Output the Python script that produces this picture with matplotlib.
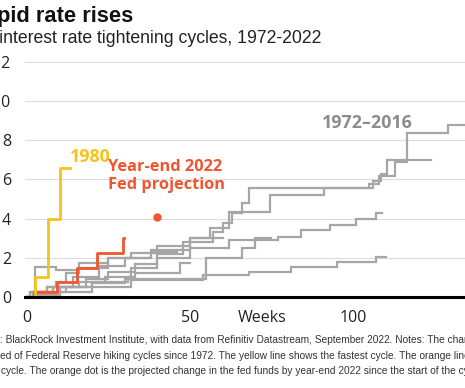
import matplotlib
matplotlib.use("Agg")
import matplotlib.pyplot as plt
from matplotlib import font_manager

# weeks since start of cycle / cumulative rise in fed funds rate (pp)
weeks_1980 = [0, 2.5, 6.4, 10.2, 13.2]
rise_1980 = [0, 1.0, 4.0, 6.6, 6.6]

weeks_2022 = [0, 2.2, 9.2, 15.3, 21.5, 29.6, 29.8]
rise_2022 = [0, 0.25, 0.75, 1.5, 2.25, 3.0, 3.0]

proj_week = 40
proj_rise = 4.1

# 1972-2016 cycles (grey)
cyc_a_weeks = [0, 3, 10, 18, 25, 33, 40, 48, 57, 60, 63, 66, 68, 105, 108, 113, 116.5, 129, 145]
cyc_a_rise = [0, 0.25, 0.5, 0.9, 1.3, 1.7, 2.2, 2.8, 3.3, 3.8, 4.3, 4.8, 5.55, 5.75, 6.2, 6.9, 8.35, 8.77, 8.77]
cyc_b_weeks = [0, 1, 6, 14, 22, 30, 38, 50, 56, 62, 74.5, 91, 106, 108.5, 110.5, 124]
cyc_b_rise = [0, 0.25, 0.5, 1.0, 1.6, 2.0, 2.4, 3.0, 3.5, 4.35, 5.2, 5.55, 5.9, 6.3, 7.0, 7.0]
cyc_c_weeks = [0, 2, 8, 16, 24, 32, 40, 50, 62, 77, 84, 93, 101, 107, 109]
cyc_c_rise = [0, 0.25, 0.5, 0.75, 1.0, 1.5, 2.0, 2.5, 2.9, 3.06, 3.4, 3.67, 4.0, 4.3, 4.3]
cyc_d_weeks = [0, 3, 10, 20, 32, 54, 68, 81, 95, 107, 110]
cyc_d_rise = [0, 0.1, 0.25, 0.5, 0.87, 1.12, 1.28, 1.53, 1.78, 2.04, 2.04]
cyc_e_weeks = [0, 2, 12, 20, 30, 55, 66, 70, 75]
cyc_e_rise = [0, 0.25, 0.5, 0.7, 0.9, 2.0, 2.5, 3.0, 3.0]
cyc_f_weeks = [0, 1, 6, 9, 12, 16, 25, 32, 40, 50, 60]
cyc_f_rise = [0, 0.25, 0.5, 0.75, 1.25, 1.75, 2.0, 2.25, 2.6, 3.0, 3.0]
cyc_g_weeks = [0, 2, 8, 20, 31, 33, 47, 50]
cyc_g_rise = [0, 0.25, 0.5, 0.75, 1.0, 1.25, 1.75, 1.75]
cyc_h_weeks = [0, 2.5, 9, 16, 25, 38, 46]
cyc_h_rise = [0, 1.55, 1.4, 1.5, 2.0, 2.3, 2.3]

grey_cycles = [
    (cyc_a_weeks, cyc_a_rise), (cyc_b_weeks, cyc_b_rise),
    (cyc_c_weeks, cyc_c_rise), (cyc_d_weeks, cyc_d_rise),
    (cyc_e_weeks, cyc_e_rise), (cyc_f_weeks, cyc_f_rise),
    (cyc_g_weeks, cyc_g_rise), (cyc_h_weeks, cyc_h_rise),
]

x_ticks = [0, 50, 100]
y_ticks = [0, 2, 4, 6, 8, 10, 12]

W, H = 465, 388
YELLOW = "#f7c21b"
ORANGE = "#f2542d"
GREY = "#a6a6a6"

plt.rcParams["font.family"] = ["Open Sans", "DejaVu Sans"]

fig = plt.figure(figsize=(W / 100, H / 100), dpi=100)
ax = fig.add_axes([25 / W, (H - 297) / H, 491 / W, 241 / H])

for wk, rs in grey_cycles:
    ax.plot(wk, rs, drawstyle="steps-post", color=GREY, lw=1.6, solid_joinstyle="miter")
ax.plot(weeks_2022, rise_2022, drawstyle="steps-post", color=ORANGE, lw=2.0)
ax.plot(weeks_1980, rise_1980, drawstyle="steps-post", color=YELLOW, lw=2.0)
ax.plot([proj_week], [proj_rise], "o", color=ORANGE, ms=5)

ax.set_xlim(-0.6, 150)
ax.set_ylim(0, 12.3)
ax.set_xticks(x_ticks)
ax.set_yticks(y_ticks)
ax.tick_params(axis="x", length=0, pad=9, labelsize=11.5, colors="#222222")
ax.tick_params(axis="y", length=0, pad=10, labelsize=11.5, colors="#222222")
ax.grid(axis="y", color="#dcdcdc", lw=0.8)
ax.set_axisbelow(True)
for s in ["top", "right", "left"]:
    ax.spines[s].set_visible(False)
ax.spines["bottom"].set_linewidth(2.2)
ax.spines["bottom"].set_color("black")

# labels
ax.text(13.2, 6.9, "1980", color=YELLOW, fontsize=12.8, fontweight="bold")
ax.text(24.8, 5.5, "Year-end 2022\nFed projection", color=ORANGE, fontsize=11.8,
        fontweight="bold", linespacing=1.2)
ax.text(90.5, 8.6, "1972–2016", color="#8c8c8c", fontsize=12.8, fontweight="bold")
fig.text(262 / W, 1 - 318 / H, "Weeks", fontsize=11.5, ha="center", va="center",
         color="#222222")

renderer = fig.canvas.get_renderer()


def text_width(s, size, **kw):
    t = fig.text(0, 0, s, fontsize=size, **kw)
    w = t.get_window_extent(renderer).width
    t.remove()
    return w


def fit_size(s, target_px, **kw):
    return 10 * target_px / text_width(s, 10, **kw)


# title block (cropped at the left edge)
head_font = dict(family=["Liberation Sans", "DejaVu Sans"])
size = fit_size("pid rate rises", 137, fontweight="bold", **head_font)
fig.text(133 / W, 1 - 22 / H, "Rapid rate rises", fontsize=size, fontweight="bold",
         ha="right", va="baseline", color="#111111", **head_font)
size = fit_size("nterest rate tightening cycles, 1972-2022", 321, **head_font)
fig.text(321 / W, 1 - 43 / H, "Fed interest rate tightening cycles, 1972-2022",
         fontsize=size, ha="right", va="baseline", color="#222222", **head_font)

# footnote, cropped on both sides
names = {f.name for f in font_manager.fontManager.ttflist}
note_family = "Liberation Sans Narrow" if "Liberation Sans Narrow" in names else "Liberation Sans"
note_size = fit_size(": BlackRock Investment Institute, with data from Refinitiv Datastream, "
                     "September 2022. Notes: The cha", 466, family=note_family)
note_font = dict(fontsize=note_size, color="#333333", va="baseline", family=note_family)
note_lines = [
    ("Sources", "Sources: BlackRock Investment Institute, with data from Refinitiv Datastream, "
     "September 2022. Notes: The chart shows the cumulative change", 0, 343),
    ("shows the spe", "shows the speed of Federal Reserve hiking cycles since 1972. The yellow line "
     "shows the fastest cycle. The orange line shows the current", 0, 359),
    ("", "cycle. The orange dot is the projected change in the fed funds by year-end 2022 "
     "since the start of the cycle.", 1, 374),
]
for prefix, line, x_px, y_px in note_lines:
    shift = text_width(prefix, note_size, family=note_family) if prefix else 0
    fig.text((x_px - shift) / W, 1 - y_px / H, line, **note_font)

fig.savefig("out.png", dpi=100)
